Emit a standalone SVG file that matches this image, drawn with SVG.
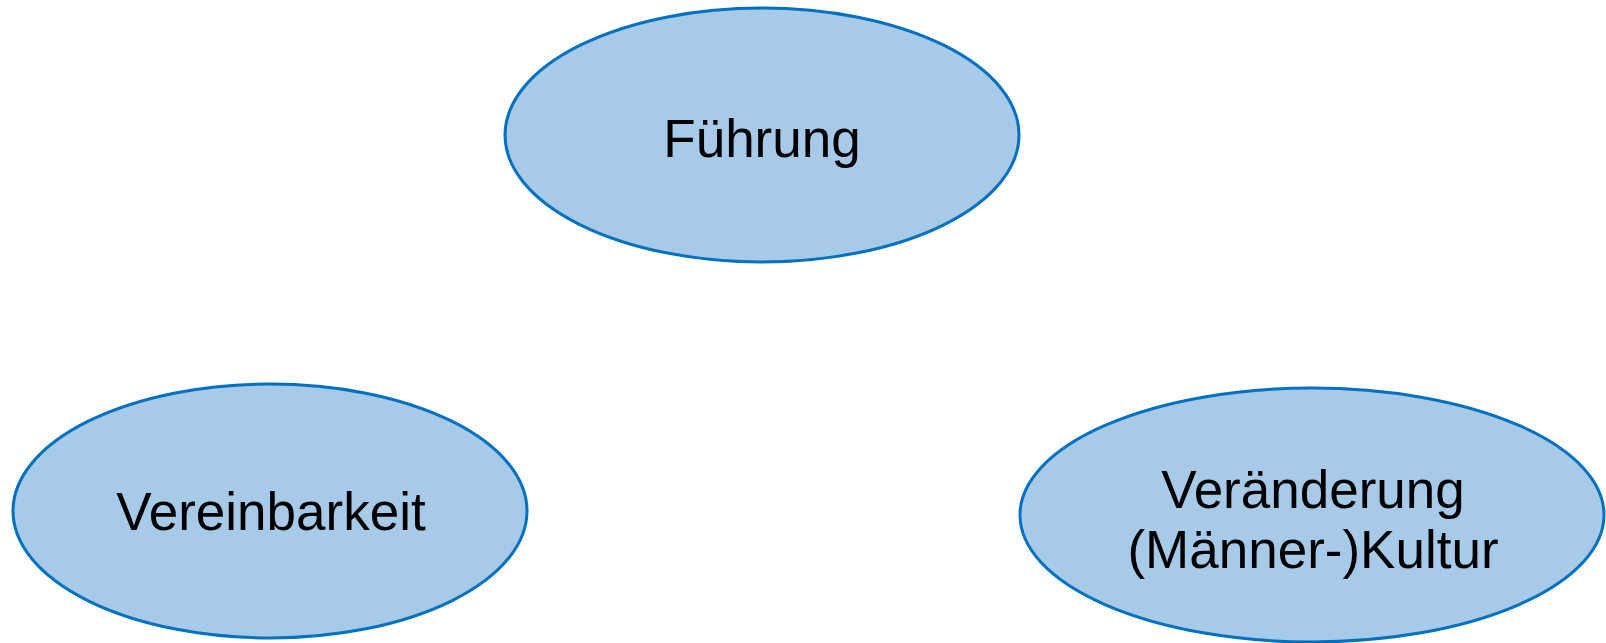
<svg xmlns="http://www.w3.org/2000/svg" width="1606" height="643" viewBox="0 0 1606 643">
<style>
.node{fill:#A6CAE7;stroke:#0070C0;stroke-width:3}
.lbl{font-family:"Liberation Sans",Arial,sans-serif;font-size:53px;fill:#000;text-anchor:middle}
</style>
<rect width="1606" height="643" fill="#fff"/>
<g id="connectors"></g>
<g id="fuehrung">
<ellipse class="node" cx="762" cy="135" rx="257" ry="127"/>
<text class="lbl" x="762" y="157">Führung</text>
</g>
<g id="vereinbarkeit">
<ellipse class="node" cx="270" cy="511" rx="257" ry="127"/>
<text class="lbl" x="271" y="530">Vereinbarkeit</text>
</g>
<g id="veraenderung">
<ellipse class="node" cx="1312" cy="515" rx="292" ry="127"/>
<text class="lbl" x="1313" y="508">Veränderung</text>
<text class="lbl" x="1313" y="568">(Männer-)Kultur</text>
</g>
</svg>
